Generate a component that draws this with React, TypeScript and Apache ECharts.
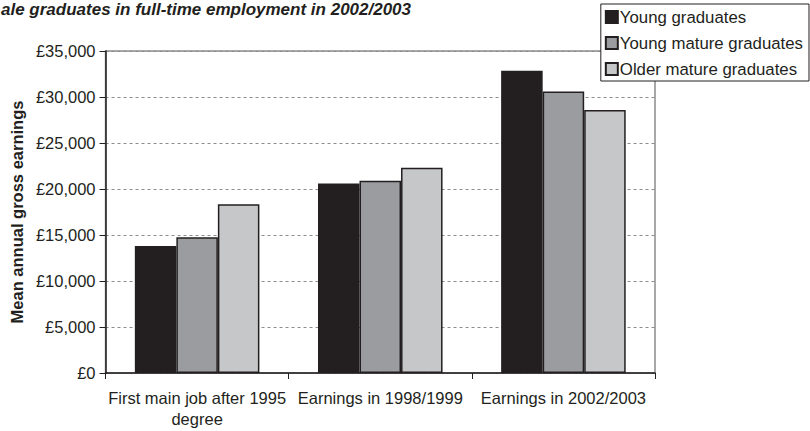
import React, { useEffect, useRef } from "react";
import * as echarts from "echarts";

const categories = ["First main job after 1995\ndegree", "Earnings in 1998/1999", "Earnings in 2002/2003"];
const seriesNames = ["Young graduates", "Young mature graduates", "Older mature graduates"];
const youngGraduates = [13800, 20600, 32850];
const youngMature = [14750, 20900, 30600];
const olderMature = [18350, 22300, 28600];
const colors = ["#231f20", "#9b9c9f", "#c6c7c9"];
const titleText = "ale graduates in full-time employment in 2002/2003";
const yAxisName = "Mean annual gross earnings";

export default function App() {
  const ref = useRef<HTMLDivElement>(null);
  useEffect(() => {
    if (!ref.current) return;
    const chart = echarts.init(ref.current, null, { renderer: "svg" });
    const font = "'Liberation Sans', Arial, sans-serif";
    const data = [youngGraduates, youngMature, olderMature];
    chart.setOption({
      animation: false,
      backgroundColor: "#ffffff",
      textStyle: { fontFamily: font },
      title: {
        text: titleText,
        left: -4,
        top: -4,
        textStyle: { fontFamily: font, fontSize: 17, fontWeight: "bold", fontStyle: "italic", color: "#231f20" },
      },
      legend: {
        orient: "vertical",
        right: 1,
        top: 4,
        padding: [3, 6, 2, 4],
        itemWidth: 12,
        itemHeight: 12,
        itemGap: 6,
        icon: "rect",
        backgroundColor: "#ffffff",
        borderColor: "#231f20",
        borderWidth: 1,
        textStyle: { fontFamily: font, fontSize: 16.8, lineHeight: 20, color: "#231f20", padding: [0, 0, 0, -3] },
        data: seriesNames,
        z: 10,
      },
      grid: {
        left: 100,
        right: 155,
        top: 51,
        bottom: 58,
        show: true,
        borderColor: "#8c8c8c",
        borderWidth: 1.5,
        containLabel: false,
      },
      xAxis: {
        type: "category",
        data: categories,
        axisLine: { lineStyle: { color: "#231f20", width: 1.5 } },
        axisTick: { show: true, length: 6, lineStyle: { color: "#231f20", width: 1 } },
        axisLabel: { interval: 0, fontFamily: font, fontSize: 16.5, color: "#231f20", margin: 14, lineHeight: 21 },
        splitLine: { show: false },
      },
      yAxis: {
        type: "value",
        min: 0,
        max: 35000,
        interval: 5000,
        name: yAxisName,
        nameLocation: "middle",
        nameRotate: 90,
        nameGap: 79,
        nameTextStyle: { fontFamily: font, fontSize: 16.5, fontWeight: "bold", color: "#231f20" },
        axisLine: { show: true, lineStyle: { color: "#231f20", width: 1.5 } },
        axisTick: { show: true, length: 6, lineStyle: { color: "#231f20", width: 1 } },
        axisLabel: {
          fontFamily: font,
          fontSize: 16.5,
          color: "#231f20",
          margin: 10,
          formatter: (v: number) => "£" + v.toLocaleString("en-GB"),
        },
        splitLine: { show: true, lineStyle: { color: "#8c8c8c", type: [3, 3], width: 1 } },
      },
      series: seriesNames.map((name, i) => ({
        name,
        type: "bar",
        data: data[i],
        barGap: "0%",
        barCategoryGap: "32%",
        itemStyle: { color: colors[i], borderColor: "#231f20", borderWidth: 1.5 },
      })),
    });
    return () => chart.dispose();
  }, []);
  return <div ref={ref} style={{ width: 810, height: 431, position: "absolute", left: 0, top: 0 }} />;
}
